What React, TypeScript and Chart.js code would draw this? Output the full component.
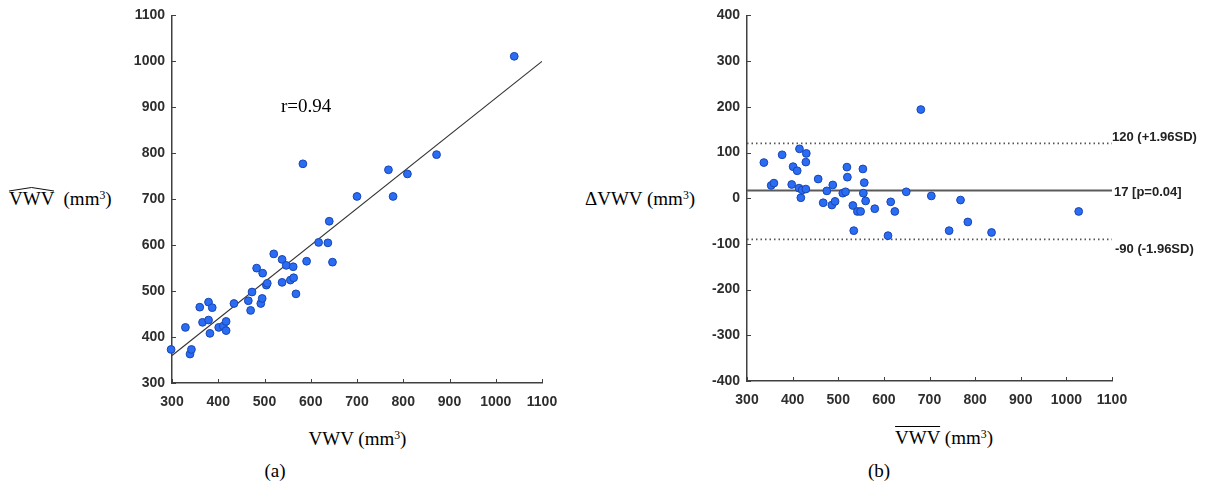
import React, { useEffect, useRef } from "react";
import { Chart, registerables } from "chart.js";

Chart.register(...registerables);

// ---------- Panel (a): VWV vs estimated VWV ----------
const vwvA = [
  298, 329, 339, 342, 360, 366, 379, 379, 387, 382, 401, 411, 417, 417, 434,
  465, 470, 473, 483, 492, 495, 496, 504, 506, 520, 538, 538, 547, 556, 562,
  563, 568, 591, 617, 637, 640, 647, 583, 700, 768, 778, 809, 872, 1040,
];
const vwvHatA = [
  373, 421, 363, 373, 465, 432, 476, 437, 464, 408, 421, 424, 434, 414, 473,
  479, 458, 498, 550, 473, 484, 539, 513, 517, 581, 519, 569, 556, 524, 553,
  529, 494, 565, 606, 605, 652, 563, 777, 706, 764, 706, 755, 797, 1011,
];
const fitLineX = [300, 1100];
const fitLineY = [360, 1000];
const corrLabel = "r=0.94";

// ---------- Panel (b): Bland-Altman ----------
const meanVwvB = [
  337, 353, 359, 377, 398, 401, 410, 414, 415, 418, 421, 429, 429, 430, 456,
  467, 475, 486, 488, 493, 510, 516, 519, 520, 532, 534, 542, 549, 555, 557,
  554, 560, 580, 609, 615, 624, 649, 681, 704, 743, 768, 784, 836, 1027,
];
const diffVwvB = [
  78, 28, 33, 95, 30, 69, 60, 22, 108, 1, 18, 79, 20, 98, 42,
  -10, 16, -15, 29, -7, 11, 14, 68, 46, -16, -71, -29, -29, 11, 34,
  64, -6, -23, -82, -8, -29, 14, 194, 5, -71, -4, -52, -75, -29,
];
const meanDiff = 17;
const upperLoA = 120;
const lowerLoA = -90;
const meanLabel = "17 [p=0.04]";
const upperLabel = "120 (+1.96SD)";
const lowerLabel = "-90 (-1.96SD)";

// ---------- Ticks ----------
const xTicks = [300, 400, 500, 600, 700, 800, 900, 1000, 1100];
const yTicksA = [300, 400, 500, 600, 700, 800, 900, 1000, 1100];
const yTicksB = [-400, -300, -200, -100, 0, 100, 200, 300, 400];

const SANS = "'Liberation Sans', Arial, sans-serif";
const SERIF = "'Liberation Serif', 'Times New Roman', serif";
const AXIS_COLOR = "#404040";
const TICK_COLOR = "#2e2e2e";
const POINT_FILL = "#2b6cf5";
const POINT_BORDER = "#1846b0";

const inwardTicks = {
  id: "inwardTicks",
  afterDraw(chart: any) {
    const { ctx, chartArea, scales } = chart;
    ctx.save();
    ctx.strokeStyle = AXIS_COLOR;
    ctx.lineWidth = 1;
    const xs = scales.x;
    xs.ticks.forEach((t: any) => {
      const p = Math.round(xs.getPixelForValue(t.value)) + 0.5;
      ctx.beginPath();
      ctx.moveTo(p, chartArea.bottom);
      ctx.lineTo(p, chartArea.bottom - 4);
      ctx.stroke();
    });
    const ys = scales.y;
    ys.ticks.forEach((t: any) => {
      const p = Math.round(ys.getPixelForValue(t.value)) + 0.5;
      ctx.beginPath();
      ctx.moveTo(chartArea.left, p);
      ctx.lineTo(chartArea.left + 4, p);
      ctx.stroke();
    });
    ctx.restore();
  },
};

function makeOptions(
  yTicks: number[],
  yWidth: number,
  padding: { top: number; right: number; bottom: number; left: number }
) {
  const tickFont = { family: SANS, size: 14, weight: "bold" as const };
  const fmt = (v: any) => String(v);
  return {
    responsive: false,
    animation: false as const,
    events: [],
    layout: { padding },
    plugins: {
      legend: { display: false },
      tooltip: { enabled: false },
      title: { display: false },
    },
    scales: {
      x: {
        type: "linear" as const,
        min: xTicks[0],
        max: xTicks[xTicks.length - 1],
        afterBuildTicks: (s: any) => {
          s.ticks = xTicks.map((v) => ({ value: v }));
        },
        afterFit: (s: any) => {
          s.height = 30;
        },
        grid: { display: false, drawTicks: false },
        border: { display: true, color: AXIS_COLOR, width: 1.5 },
        ticks: {
          color: TICK_COLOR,
          font: tickFont,
          padding: 11,
          maxRotation: 0,
          autoSkip: false,
          callback: fmt,
        },
      },
      y: {
        type: "linear" as const,
        min: yTicks[0],
        max: yTicks[yTicks.length - 1],
        afterBuildTicks: (s: any) => {
          s.ticks = yTicks.map((v) => ({ value: v }));
        },
        afterFit: (s: any) => {
          s.width = yWidth;
        },
        grid: { display: false, drawTicks: false },
        border: { display: true, color: AXIS_COLOR, width: 1.5 },
        ticks: {
          color: TICK_COLOR,
          font: tickFont,
          padding: 7,
          autoSkip: false,
          callback: fmt,
        },
      },
    },
  };
}

const pointStyle = {
  pointRadius: 3.9,
  pointBackgroundColor: POINT_FILL,
  pointBorderColor: POINT_BORDER,
  pointBorderWidth: 1,
  showLine: false,
  clip: false as const,
};

export default function App() {
  const refA = useRef<HTMLCanvasElement | null>(null);
  const refB = useRef<HTMLCanvasElement | null>(null);

  useEffect(() => {
    document.body.style.margin = "0";
    const xMin = xTicks[0];
    const xMax = xTicks[xTicks.length - 1];

    const chartA = new Chart(refA.current as HTMLCanvasElement, {
      type: "scatter",
      data: {
        datasets: [
          {
            data: fitLineX.map((x, i) => ({ x, y: fitLineY[i] })),
            showLine: true,
            borderColor: "#333333",
            borderWidth: 1.2,
            pointRadius: 0,
            order: 2,
          },
          {
            data: vwvA.map((x, i) => ({ x, y: vwvHatA[i] })),
            ...pointStyle,
            order: 1,
          },
        ],
      },
      options: makeOptions(yTicksA, 52, { top: 14, right: 30, bottom: 7, left: 0 }) as any,
      plugins: [inwardTicks],
    });

    const chartB = new Chart(refB.current as HTMLCanvasElement, {
      type: "scatter",
      data: {
        datasets: [
          {
            data: [
              { x: xMin, y: upperLoA },
              { x: xMax, y: upperLoA },
            ],
            showLine: true,
            borderColor: "#555555",
            borderWidth: 1.6,
            borderDash: [1.5, 3],
            pointRadius: 0,
            order: 3,
          },
          {
            data: [
              { x: xMin, y: lowerLoA },
              { x: xMax, y: lowerLoA },
            ],
            showLine: true,
            borderColor: "#555555",
            borderWidth: 1.6,
            borderDash: [1.5, 3],
            pointRadius: 0,
            order: 3,
          },
          {
            data: [
              { x: xMin, y: meanDiff },
              { x: xMax, y: meanDiff },
            ],
            showLine: true,
            borderColor: "#5a5a5a",
            borderWidth: 2,
            pointRadius: 0,
            order: 2,
          },
          {
            data: meanVwvB.map((x, i) => ({ x, y: diffVwvB[i] })),
            ...pointStyle,
            order: 1,
          },
        ],
      },
      options: makeOptions(yTicksB, 47, { top: 15, right: 30, bottom: 9, left: 0 }) as any,
      plugins: [inwardTicks],
    });

    return () => {
      chartA.destroy();
      chartB.destroy();
    };
  }, []);

  const serifText: React.CSSProperties = {
    position: "absolute",
    fontFamily: SERIF,
    fontSize: 19,
    lineHeight: "19px",
    color: "#000",
    whiteSpace: "pre",
  };
  const annText: React.CSSProperties = {
    position: "absolute",
    fontFamily: SANS,
    fontWeight: "bold",
    fontSize: 13,
    lineHeight: "15px",
    color: "#222",
    whiteSpace: "pre",
  };
  const sup: React.CSSProperties = {
    fontSize: "0.62em",
    position: "relative",
    top: "-0.55em",
  };

  return (
    <div
      style={{
        position: "relative",
        width: 1206,
        height: 487,
        background: "#fff",
        overflow: "hidden",
      }}
    >
      <canvas
        ref={refA}
        width={452}
        height={420}
        style={{ position: "absolute", left: 120, top: 0, width: 452, height: 420 }}
      />
      <canvas
        ref={refB}
        width={442}
        height={420}
        style={{ position: "absolute", left: 700, top: 0, width: 442, height: 420 }}
      />

      {/* panel (a) texts */}
      <div style={{ ...serifText, left: 281, top: 96 }}>{corrLabel}</div>
      <div style={{ ...serifText, left: 9, top: 189 }}>
        {"VWV  (mm"}
        <span style={sup}>3</span>
        {")"}
      </div>
      <svg
        style={{ position: "absolute", left: 9, top: 186, overflow: "visible" }}
        width={46}
        height={6}
      >
        <polyline
          points="0,5 22.5,1.5 45,5"
          fill="none"
          stroke="#111"
          strokeWidth={1}
        />
      </svg>
      <div style={{ ...serifText, left: 357.5, top: 429, transform: "translateX(-50%)" }}>
        {"VWV (mm"}
        <span style={sup}>3</span>
        {")"}
      </div>
      <div style={{ ...serifText, left: 275, top: 461, transform: "translateX(-50%)" }}>
        (a)
      </div>

      {/* panel (b) texts */}
      <div style={{ ...serifText, left: 585, top: 189 }}>
        {"\u0394VWV (mm"}
        <span style={sup}>3</span>
        {")"}
      </div>
      <div style={{ ...serifText, left: 944, top: 428, transform: "translateX(-50%)" }}>
        <span style={{ textDecoration: "overline", textDecorationThickness: "1px" }}>VWV</span>
        {" (mm"}
        <span style={sup}>3</span>
        {")"}
      </div>
      <div style={{ ...serifText, left: 879, top: 461, transform: "translateX(-50%)" }}>
        (b)
      </div>
      <div style={{ ...annText, left: 1112, top: 128.5 }}>{upperLabel}</div>
      <div style={{ ...annText, left: 1114, top: 183.5 }}>{meanLabel}</div>
      <div style={{ ...annText, left: 1115, top: 240.5 }}>{lowerLabel}</div>
    </div>
  );
}
